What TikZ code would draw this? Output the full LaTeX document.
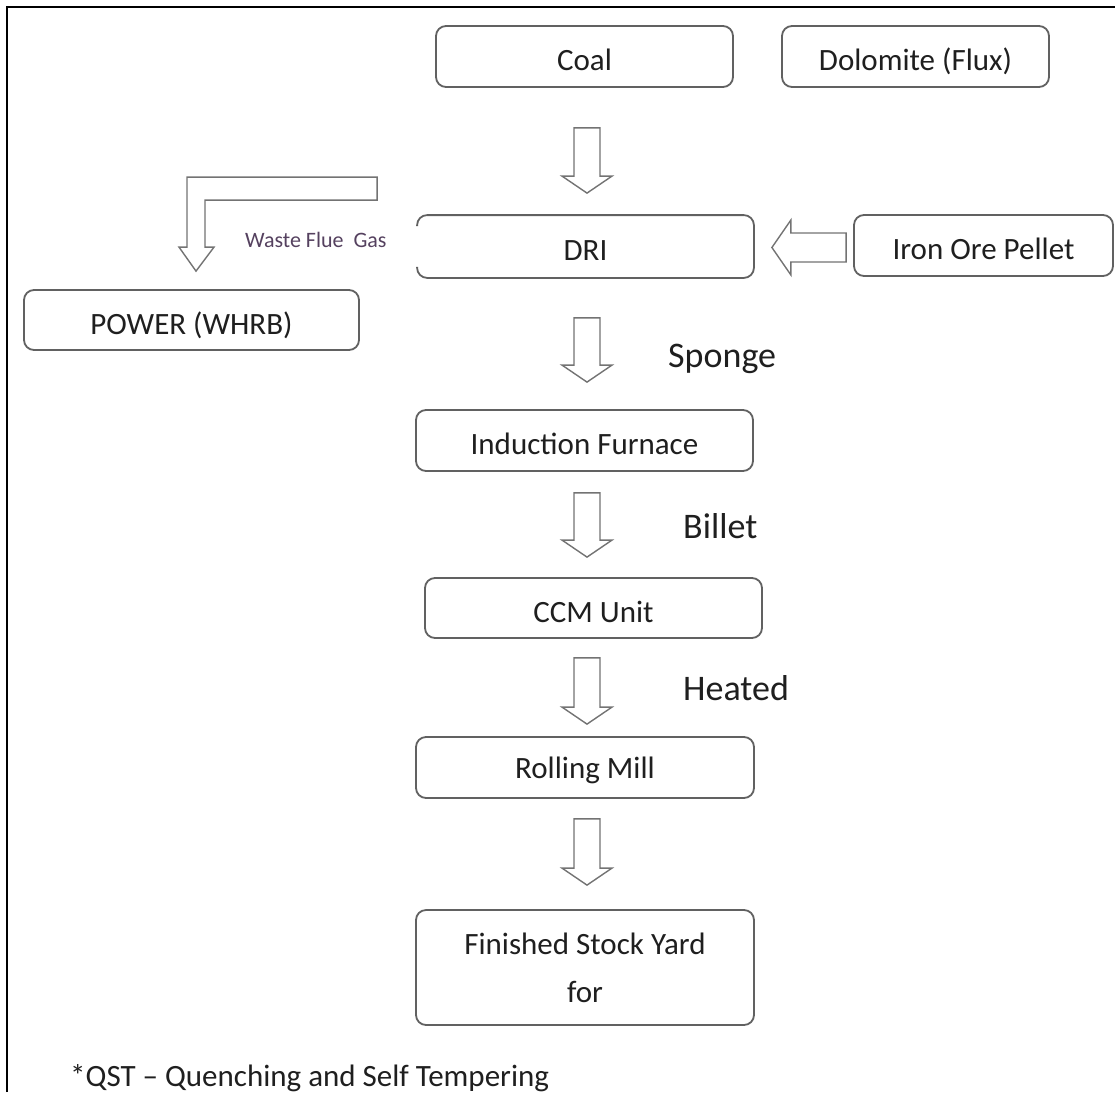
\documentclass[tikz,border=0pt]{standalone}
\usepackage{fontspec}
\setmainfont{Carlito}
\usetikzlibrary{calc}

% down-pointing block arrow between two stacked nodes:
% #1 upper node, #2 lower node, #3 gap below #1, #4 gap above #2
\newcommand\BlkDown[4]{%
  \draw[blk] let \p0=(axis), \p1=(#1.south), \p2=(#2.north) in
    ({\x0-13pt},{\y1-#3}) -- ({\x0+13pt},{\y1-#3}) --
    ({\x0+13pt},{\y2+#4+17pt}) -- ({\x0+25pt},{\y2+#4+17pt}) --
    (\x0,{\y2+#4}) --
    ({\x0-25pt},{\y2+#4+17pt}) -- ({\x0-13pt},{\y2+#4+17pt}) -- cycle;}

\begin{document}
\begin{tikzpicture}[x=1pt,y=-1pt,
  boxedge/.style={draw=black!62, line width=1.8pt, rounded corners=10pt},
  boxbase/.style={boxedge, fill=white, text=black!88, inner sep=0pt,
    font=\fontsize{31}{37}\selectfont},
  box/.style={boxbase, text height=28pt, text depth=0pt},
  boxtext/.style={text=black!88, inner sep=0pt, font=\fontsize{31}{37}\selectfont},
  blk/.style={draw=black!55, line width=1.4pt, fill=white, line join=miter},
  lbl/.style={text=black!88, font=\fontsize{36}{43}\selectfont, inner sep=0pt, anchor=base west},
  gaslbl/.style={text={rgb,255:red,85;green,65;blue,95}, font=\fontsize{22}{26}\selectfont,
    inner sep=0pt, anchor=base west},
  note/.style={text=black!88, font=\fontsize{31}{37}\selectfont, inner sep=0pt, anchor=base west},
]
\useasboundingbox (0,0) rectangle (1115,1092);

% page frame
\draw[line width=2pt] (7,1092) -- (7,7) -- (1115,7);

% common axis of the vertical flow arrows
\coordinate (axis) at (587,0);

% raw materials
\node[box, minimum width=297, minimum height=61] (coal) at (584.5,56.5) {Coal};
\node[box, minimum width=267, minimum height=61] (dolo) at (915.5,56.5) {Dolomite (Flux)};

% DRI kiln (left side of its outline left open)
\node[box, draw=none, minimum width=335, minimum height=61] (dri) at (585.5,246.5) {DRI};
\draw[boxedge] ($(dri.north west)+(0,11)$) -- (dri.north west) -- (dri.north east)
  -- (dri.south east) -- (dri.south west) -- ($(dri.south west)+(0,-11)$);

\node[box, minimum width=259, minimum height=61] (iron) at (983.5,245.5) {Iron Ore Pellet};
\node[box, minimum width=335, minimum height=60] (power) at (191.5,320) {POWER (WHRB)};

% steel making chain
\node[box, minimum width=337, minimum height=61] (induct) at (584.5,440.5) {Induction Furnace};
\node[box, minimum width=337, minimum height=60] (ccm) at (593.5,608) {CCM Unit};
\node[boxbase, minimum width=338, minimum height=61] (roll) at (585,767.5) {};
\begin{scope}
  \clip (400,730) rectangle (770,783.5);
  \node[boxtext, anchor=base] (rolltext) at ($(roll.center)+(0,10.5)$) {Rolling Mill};
\end{scope}
\node[boxbase, align=center, font=\fontsize{31}{48}\selectfont,
  minimum width=338, minimum height=115] (fin) at (585,967.5) {Finished Stock Yard\\for};

% flow arrows
\BlkDown{coal}{dri}{40pt}{22pt}
\BlkDown{dri}{induct}{40pt}{27pt}
\BlkDown{induct}{ccm}{21pt}{20pt}
\BlkDown{ccm}{roll}{19pt}{12pt}
\BlkDown{roll}{fin}{20pt}{24pt}

% iron ore pellets into the kiln
\draw[blk] let \p1=(iron.west), \p2=(dri.east) in
  ({\x1-7pt},{\y2+13.5pt}) -- ({\x2+37pt},{\y2+13.5pt}) -- ({\x2+37pt},{\y2+26.5pt})
  -- ({\x2+18pt},{\y2-1pt}) -- ({\x2+37pt},{\y2-28.5pt}) -- ({\x2+37pt},{\y2-15.5pt})
  -- ({\x1-7pt},{\y2-15.5pt}) -- cycle;

% waste flue gas to the heat recovery boiler
\draw[blk] let \p1=(power.north), \p2=(dri.west) in
  ({\x1-4.5pt},{\y1+42pt}) -- ({\x1-4.5pt},{\y1+112pt}) -- ({\x2-40pt},{\y1+112pt})
  -- ({\x2-40pt},{\y1+89pt}) -- ({\x1+13.5pt},{\y1+89pt}) -- ({\x1+13.5pt},{\y1+42pt})
  -- ({\x1+22.5pt},{\y1+42pt}) -- ({\x1+4.5pt},{\y1+18pt}) -- ({\x1-12.5pt},{\y1+42pt}) -- cycle;

% labels
\node[gaslbl] (gas) at (245,247) {Waste Flue\ \ Gas};
\node[lbl] (sponge) at (668,367) {Sponge};
\node[lbl] (billet) at (683,538) {Billet};
\node[lbl] (heated) at (683,700) {Heated};
\node[note] (qst) at (70,1086) {*QST – Quenching and Self Tempering};
\end{tikzpicture}
\end{document}
